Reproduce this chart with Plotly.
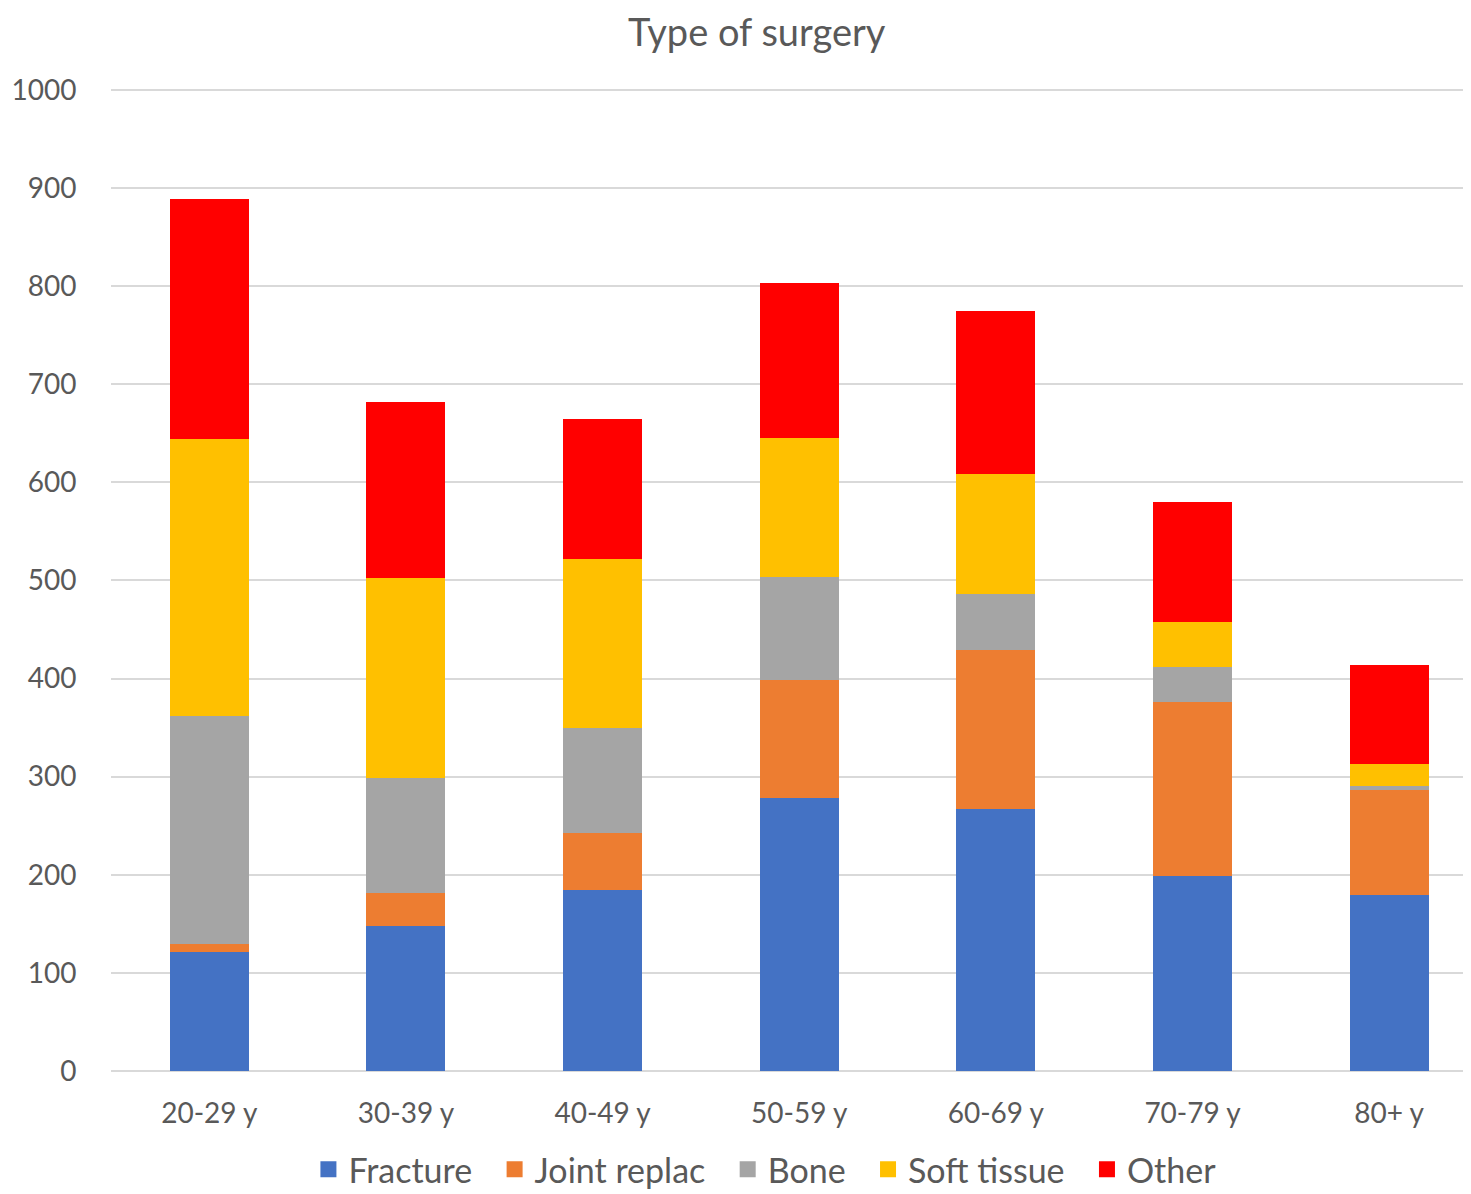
import plotly.graph_objects as go

categories = ["20-29 y", "30-39 y", "40-49 y", "50-59 y", "60-69 y", "70-79 y", "80+ y"]

fracture = [121, 148, 184, 278, 267, 199, 179]
joint_replac = [8, 33, 59, 121, 162, 177, 107]
bone = [233, 118, 107, 105, 57, 36, 5]
soft_tissue = [282, 204, 172, 141, 122, 46, 22]
other = [245, 179, 143, 158, 167, 122, 101]

series = [
    ("Fracture", fracture, "#4472C4"),
    ("Joint replac", joint_replac, "#ED7D31"),
    ("Bone", bone, "#A5A5A5"),
    ("Soft tissue", soft_tissue, "#FFC000"),
    ("Other", other, "#FF0000"),
]

fig = go.Figure()
for name, vals, color in series:
    fig.add_trace(go.Bar(
        x=categories,
        y=vals,
        name=name,
        showlegend=False,
        marker=dict(color=color, line=dict(width=0))
    ))

# legend entries with big square swatches
for name, vals, color in series:
    fig.add_trace(go.Scatter(
        x=[None],
        y=[None],
        mode="markers",
        name=name + "&nbsp;&nbsp;",
        marker=dict(symbol="square", size=20, color=color),
    ))

fig.update_layout(
    barmode="stack",
    bargap=0.598,
    width=1471,
    height=1194,
    margin=dict(l=103, r=0, t=77, b=131),
    paper_bgcolor="white",
    plot_bgcolor="white",
    font=dict(family="Lato, Noto Sans, sans-serif", color="#595959"),
    title=dict(
        text="Type of surgery",
        x=0.509,
        xanchor="center",
        y=0.979,
        yanchor="middle",
        font=dict(size=38, color="#595959")
    ),
    xaxis=dict(
        range=[-0.5, 6.457],
        tickfont=dict(size=28),
        showline=False,
        ticks="outside",
        ticklen=17,
        tickcolor="rgba(0,0,0,0)",
    ),
    yaxis=dict(
        range=[0, 1005],
        dtick=100,
        tickfont=dict(size=28),
        showgrid=True,
        gridcolor="#D9D9D9",
        gridwidth=1.5,
        zeroline=True,
        zerolinecolor="#D9D9D9",
        zerolinewidth=1.5,
        ticks="outside",
        ticklen=28,
        tickcolor="rgba(0,0,0,0)",
    ),
    legend=dict(
        orientation="h",
        x=0.52,
        xref="container",
        xanchor="center",
        y=0.027,
        yref="container",
        yanchor="middle",
        font=dict(size=34, color="#595959"),
        itemsizing="trace",
        itemwidth=30,
        traceorder="normal",
    ),
)

fig.write_html("out.html")
